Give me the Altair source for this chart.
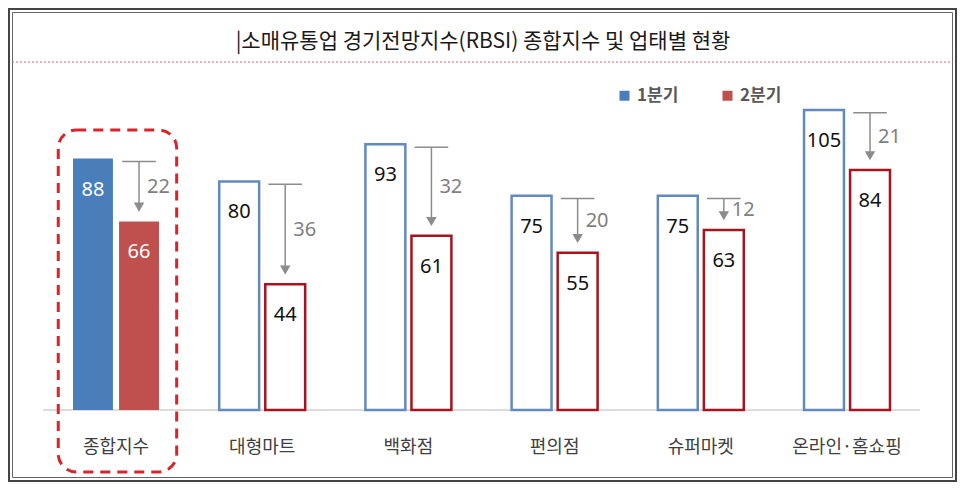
import json
import altair as alt
import pandas as pd

# ---- data ----
categories = ["종합지수", "대형마트", "백화점", "편의점", "슈퍼마켓", "온라인·홈쇼핑"]
q1_values = [88, 80, 93, 75, 75, 105]
q2_values = [66, 44, 61, 55, 63, 84]
quarters = ["1분기", "2분기"]
highlight = "종합지수"
title_text = "|소매유통업 경기전망지수(RBSI) 종합지수 및 업태별 현황"

# ---- styles ----
BLUE_FILL = "#4A7EBB"
RED_FILL = "#C0504D"
BLUE_LINE = "#6489BF"
RED_LINE = "#A8141E"
GRAY = "#8C8C8C"
KFONT = "Noto Sans CJK KR"
NFONT = "Noto Sans"

W, H = 949, 474
STEP = 146.2
PPU = 300 / 105
X0 = (0 - 108) / STEP
Y_TOP = 402 / PPU
Y_BOT = -(H - 402) / PPU

def px_x(px):
    return X0 + px / STEP

def px_y(py):
    return Y_TOP - py / PPU

xs = alt.Scale(domain=[X0, X0 + W / STEP], nice=False, zero=False)
ys = alt.Scale(domain=[Y_BOT, Y_TOP], nice=False, zero=False)

def QX(f):
    return alt.X(f, type="quantitative", scale=xs, axis=None)

def QY(f):
    return alt.Y(f, type="quantitative", scale=ys, axis=None)

wide = pd.DataFrame({
    "cat": categories,
    "idx": list(range(len(categories))),
    "q1": q1_values,
    "q2": q2_values,
})
long = pd.DataFrame({
    "cat": categories * 2,
    "idx": list(range(len(categories))) * 2,
    "quarter": [quarters[0]] * len(categories) + [quarters[1]] * len(categories),
    "value": q1_values + q2_values,
})
hl_df = wide[wide["cat"] == highlight].reset_index(drop=True)

q1_test = f"datum.quarter == '{quarters[0]}'"
hl_test = f"datum.cat == '{highlight}'"

base_long = alt.Chart(long).transform_calculate(
    xa=f"{q1_test} ? datum.idx - 0.294 : datum.idx + 0.021",
    xb=f"{q1_test} ? datum.idx - 0.021 : datum.idx + 0.294",
    xc=f"{q1_test} ? datum.idx - 0.1575 : datum.idx + 0.1575",
    zero="0",
    fillkey=f"{hl_test} ? datum.quarter : 'none'",
    sw=f"{hl_test} ? 0 : 2.5",
    tcol=f"{hl_test} ? 'white' : '#111111'",
)

bars = base_long.mark_bar().encode(
    x=QX("xa"),
    x2="xb:Q",
    y=QY("value"),
    y2="zero:Q",
    fill=alt.Fill(
        "fillkey:N",
        scale=alt.Scale(domain=quarters + ["none"], range=[BLUE_FILL, RED_FILL, "white"]),
        legend=alt.Legend(
            values=quarters,
            orient="none", legendX=608, legendY=79, direction="horizontal",
            title=None, symbolType="square", symbolSize=100,
            symbolStrokeWidth=0, labelFont=KFONT, labelFontSize=17,
            labelFontWeight="bold", labelColor="#595959",
            labelOffset=4, columnPadding=40, padding=0,
        ),
    ),
    stroke=alt.Stroke("quarter:N",
                      scale=alt.Scale(domain=quarters, range=[BLUE_LINE, RED_LINE]),
                      legend=None),
    strokeWidth=alt.StrokeWidth("sw:Q", scale=None),
)

value_text = base_long.mark_text(
    font=NFONT, fontSize=20, baseline="middle", dy=31
).encode(
    x=QX("xc"),
    y=QY("value"),
    text="value:Q",
    color=alt.Color("tcol:N", scale=None),
)

base_wide = alt.Chart(wide).transform_calculate(
    rc="datum.idx + 0.1575",
    hl="datum.idx + 0.1575 - 0.115",
    hr="datum.idx + 0.1575 + 0.115",
    top="datum.q1 - 1",
    stem_end="datum.q2 + 5",
    head="datum.q2 + 5",
    mid="(datum.q1 + datum.q2) / 2 + 1",
    diff="datum.q1 - datum.q2",
)

hrule = base_wide.mark_rule(color=GRAY, strokeWidth=1.5).encode(
    x=QX("hl"), x2="hr:Q", y=QY("top")
)
vrule = base_wide.mark_rule(color=GRAY, strokeWidth=1.5).encode(
    x=QX("rc"), y=QY("top"), y2="stem_end:Q"
)
heads = base_wide.mark_point(
    shape="triangle-down", filled=True, color=GRAY, size=110, opacity=1
).encode(x=QX("rc"), y=QY("head"))
diff_text = base_wide.mark_text(
    font=NFONT, fontSize=20, color="#7F7F7F", align="left", baseline="middle", dx=8
).encode(x=QX("rc"), y=QY("mid"), text="diff:Q")

cat_text = alt.Chart(wide).transform_calculate(
    ly=f"{px_y(440)}"
).mark_text(
    font=KFONT, fontSize=18, color="#404040", baseline="middle"
).encode(x=QX("idx"), y=QY("ly"), text="cat:N")

# decorations (frame, title, separators, highlight box) through the same scales
deco = alt.Chart(hl_df).transform_calculate(
    ttl=json.dumps(title_text, ensure_ascii=False),
    zero="0",
    bx1=f"{px_x(35)}", bx2=f"{px_x(912)}",
    tx=f"{px_x(475)}", ty=f"{px_y(34)}",
    dx1=f"{px_x(4)}", dx2=f"{px_x(W - 4)}", dy1=f"{px_y(54)}",
    ox1=f"{px_x(1)}", ox2=f"{px_x(W - 1)}", oy1=f"{px_y(1)}", oy2=f"{px_y(H - 1)}",
    ix1=f"{px_x(4.5)}", ix2=f"{px_x(W - 4.5)}", iy1=f"{px_y(4.5)}", iy2=f"{px_y(H - 4.5)}",
    bl="datum.idx - 0.395", br="datum.idx + 0.415",
    bt=f"{px_y(122)}", bb=f"{px_y(464)}",
)

outer = deco.mark_bar(fill="white", stroke="#444444", strokeWidth=2).encode(
    x=QX("ox1"), x2="ox2:Q", y=QY("oy1"), y2="oy2:Q"
)
inner = deco.mark_bar(fill="white", stroke="#666666", strokeWidth=1).encode(
    x=QX("ix1"), x2="ix2:Q", y=QY("iy1"), y2="iy2:Q"
)
baseline = deco.mark_rule(color="#D0D0D0", strokeWidth=1.5).encode(
    x=QX("bx1"), x2="bx2:Q", y=QY("zero")
)
dotted = deco.mark_rule(color="#E0606E", strokeWidth=1, strokeDash=[2, 2]).encode(
    x=QX("dx1"), x2="dx2:Q", y=QY("dy1")
)
title = deco.mark_text(
    font=KFONT, fontSize=21, color="#1a1a1a", baseline="middle", align="center"
).encode(x=QX("tx"), y=QY("ty"), text="ttl:N")
hl_box = deco.mark_bar(
    fillOpacity=0, stroke="#D9252A", strokeWidth=3, strokeDash=[10, 7], cornerRadius=18
).encode(x=QX("bl"), x2="br:Q", y=QY("bt"), y2="bb:Q")

chart = alt.layer(
    outer, inner, title, dotted, baseline, bars, value_text,
    hrule, vrule, heads, diff_text, cat_text, hl_box,
).properties(
    width=W, height=H, padding=0,
    autosize=alt.AutoSizeParams(type="none"),
    background="white",
).configure_view(stroke=None)

chart.save("out.html", embed_options={"renderer": "svg", "actions": False})
